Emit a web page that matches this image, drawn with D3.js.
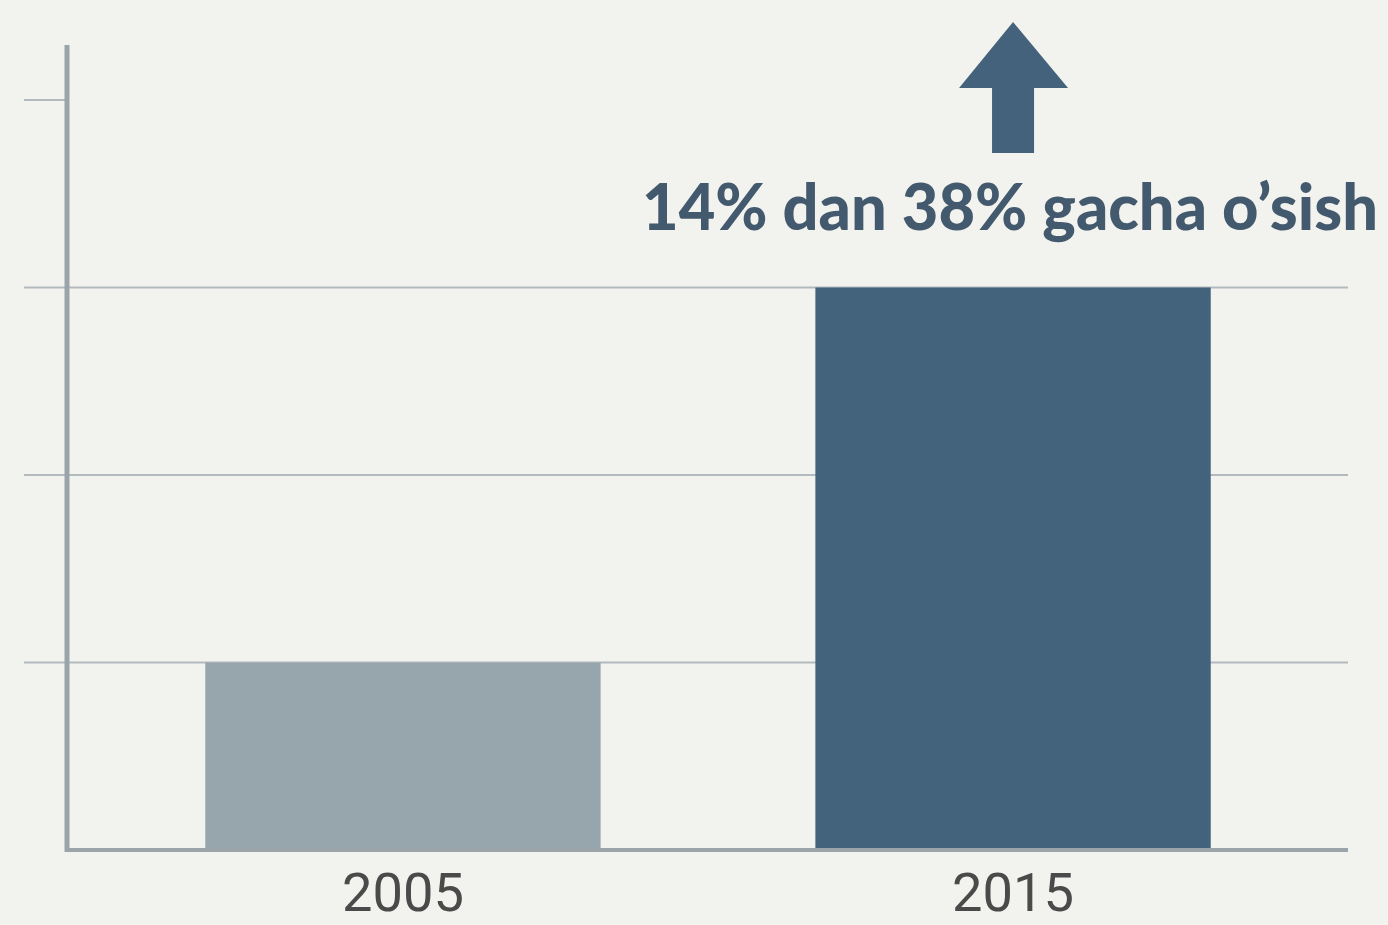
<!DOCTYPE html>
<html>
<head>
<meta charset="utf-8">
<script src="https://cdn.jsdelivr.net/npm/d3@7"></script>
<style>
  html, body { margin: 0; padding: 0; background: #f2f2ee; }
  svg { display: block; }
</style>
</head>
<body>
<svg id="chart"></svg>
<script>
// data
const years = ["2005", "2015"];
const barValues = [1, 3];          // in gridline units, as drawn
const gridTicks = [1, 2, 3, 4];
const startPct = 14, endPct = 38;
const barColors = ["#97a5ad", "#43627c"];

let width = 1388,
    height = 925;

let svg = d3.select("#chart")
    .attr("width", width)
    .attr("height", height);

svg.append("rect")
    .attr("width", width)
    .attr("height", height)
    .attr("fill", "#f2f2ee");

let x = d3.scaleBand()
    .domain(years)
    .range([68, 1348])
    .paddingInner(0.352)
    .paddingOuter(0.225);

let y = d3.scaleLinear()
    .domain([0, 4])
    .range([850, 100]);

// gridlines (top tick is only a stub)
svg.append("g")
    .selectAll("line")
    .data(gridTicks)
    .join("line")
    .attr("x1", 24)
    .attr("x2", d => d === 4 ? 66 : 1348)
    .attr("y1", d => y(d))
    .attr("y2", d => y(d))
    .attr("stroke", "#b3babe")
    .attr("stroke-width", 2);

// bars
svg.append("g")
    .selectAll("rect")
    .data(barValues)
    .join("rect")
    .attr("x", (d, i) => x(years[i]))
    .attr("y", d => y(d))
    .attr("width", x.bandwidth())
    .attr("height", d => y(0) - y(d))
    .attr("fill", (d, i) => barColors[i]);

// axes
svg.append("line")
    .attr("x1", 67).attr("x2", 67)
    .attr("y1", 45).attr("y2", 852)
    .attr("stroke", "#9aa4a9")
    .attr("stroke-width", 5);

svg.append("line")
    .attr("x1", 65).attr("x2", 1348)
    .attr("y1", y(0)).attr("y2", y(0))
    .attr("stroke", "#9aa4a9")
    .attr("stroke-width", 4);

// year labels
svg.append("g")
    .selectAll("text")
    .data(years)
    .join("text")
    .attr("x", d => x(d) + x.bandwidth() / 2)
    .attr("y", 911)
    .attr("text-anchor", "middle")
    .attr("font-family", "Roboto, sans-serif")
    .attr("font-size", 54)
    .attr("textLength", 122)
    .attr("lengthAdjust", "spacingAndGlyphs")
    .attr("fill", "#4a4a4a")
    .text(d => d);

// arrow over the 2015 bar
let cx = x(years[1]) + x.bandwidth() / 2;
let arrow = d3.path();
arrow.moveTo(cx, 22);
arrow.lineTo(cx + 55, 88);
arrow.lineTo(cx + 21, 88);
arrow.lineTo(cx + 21, 153);
arrow.lineTo(cx - 21, 153);
arrow.lineTo(cx - 21, 88);
arrow.lineTo(cx - 54, 88);
arrow.closePath();

svg.append("path")
    .attr("d", arrow.toString())
    .attr("fill", "#45627c");

svg.append("text")
    .attr("x", 1010)
    .attr("y", 230)
    .attr("text-anchor", "middle")
    .attr("font-family", "Lato, 'Open Sans', sans-serif")
    .attr("font-weight", 900)
    .attr("font-size", 64)
    .attr("textLength", 736)
    .attr("lengthAdjust", "spacingAndGlyphs")
    .attr("fill", "#435a6e")
    .text(startPct + "% dan " + endPct + "% gacha o\u2019sish");
</script>
</body>
</html>
